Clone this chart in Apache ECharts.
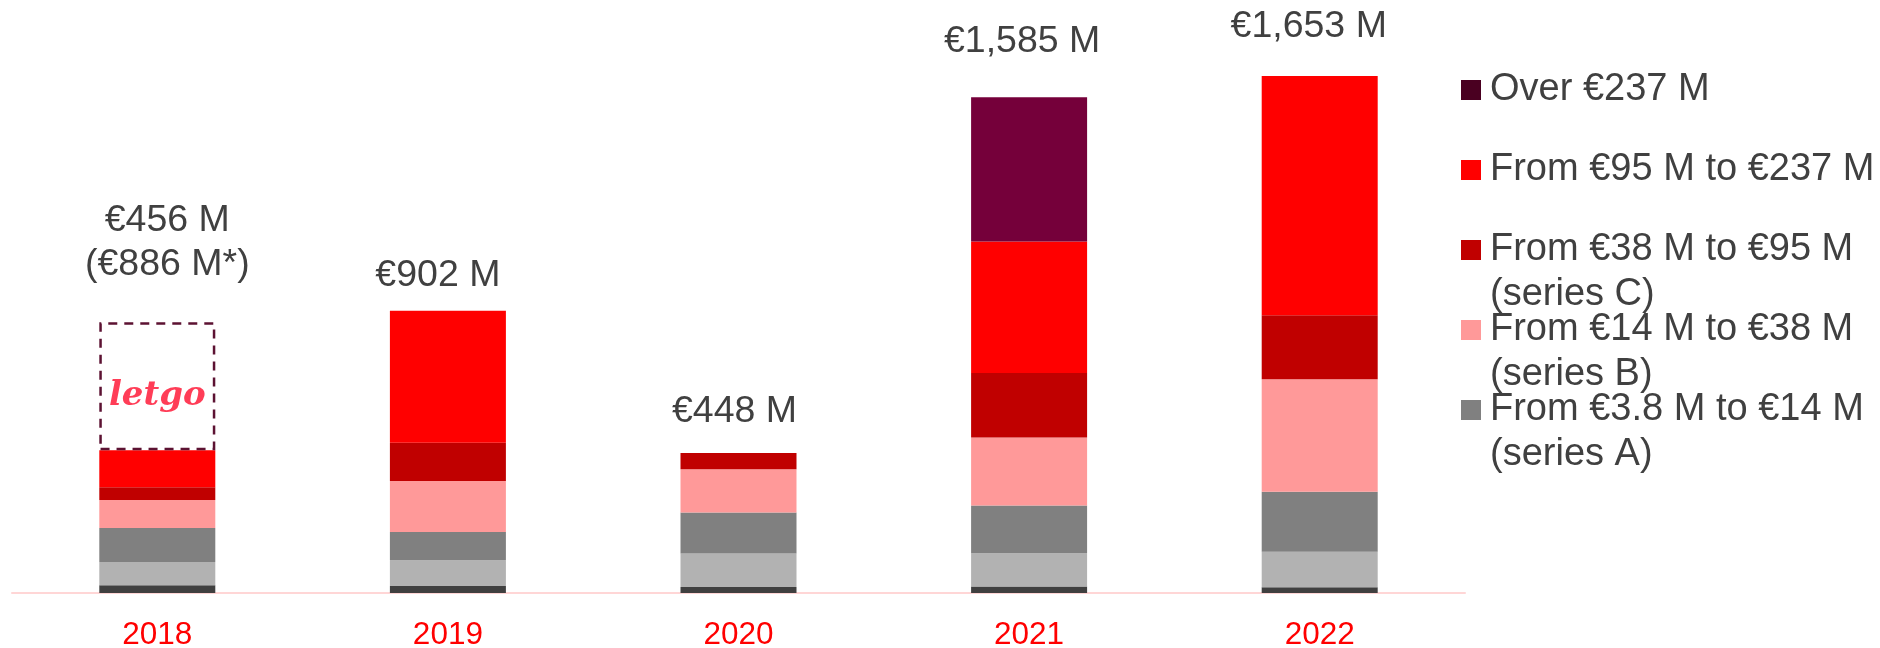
<!DOCTYPE html>
<html>
<head>
<meta charset="utf-8">
<title>Funding by round size</title>
<script src="https://cdn.jsdelivr.net/npm/echarts@6/dist/echarts.min.js"></script>
<style>
  html, body { margin: 0; padding: 0; background: #fff; }
  #main { width: 1880px; height: 648px; }
</style>
</head>
<body>
<div id="main"></div>
<script>
// data (M€)
var years = ['2018', '2019', '2020', '2021', '2022'];
var under095 = [25, 22, 19, 21, 18];
var from095to38 = [74, 83, 107, 106, 114];
var seriesA = [109, 90, 131, 153, 192];
var seriesB = [89, 163, 139, 217, 359];
var seriesC = [41, 122, 52, 206, 205];
var from95to237 = [118, 422, null, 421, 765];
var over237 = [null, null, null, 461, null];
var letgo = [410, null, null, null, null];
var totalLabels = ['€456 M\n(€886 M*)', '€902 M', '€448 M', '€1,585 M', '€1,653 M'];

// label nudges (style only)
var labelGap = [35, 13, 19, 34, 27];
var labelShift = [10, -10, -4, -7, -11];

var font = '"Liberation Sans", Arial, sans-serif';
var textGrey = '#404040';

var dom = document.getElementById('main');
var myChart = echarts.init(dom);

function stackBar(name, data, color) {
    return {
        name: name,
        type: 'bar',
        stack: 'total',
        barWidth: 116,
        data: data,
        itemStyle: { color: color },
        emphasis: { disabled: true }
    };
}

var totals = years.map(function (y, i) {
    return {
        value: 0,
        label: { distance: labelGap[i], offset: [labelShift[i], 0], formatter: totalLabels[i] }
    };
});

var option = {
    animation: false,
    textStyle: { fontFamily: font },
    grid: { left: 12, right: 415, top: 30, bottom: 55, containLabel: false, outerBoundsMode: 'none' },
    legend: {
        orient: 'vertical',
        left: 1456,
        top: 65,
        itemWidth: 20,
        itemHeight: 20,
        itemGap: 40,
        icon: 'rect',
        selectedMode: false,
        textStyle: { fontSize: 38, color: textGrey, fontFamily: font, lineHeight: 40, padding: [0, 0, 0, 4] },
        data: [
            { name: 'Over €237 M', itemStyle: { color: '#4a0021' } },
            { name: 'From €95 M to €237 M' },
            { name: 'From €38 M to €95 M' },
            { name: 'From €14 M to €38 M' },
            { name: 'From €3.8 M to €14 M' }
        ]
    },
    graphic: [
        { type: 'text', x: 1490, y: 295, style: { text: '(series C)', font: '38px ' + font, fill: textGrey, verticalAlign: 'middle' } },
        { type: 'text', x: 1490, y: 375, style: { text: '(series B)', font: '38px ' + font, fill: textGrey, verticalAlign: 'middle' } },
        { type: 'text', x: 1490, y: 455, style: { text: '(series A)', font: '38px ' + font, fill: textGrey, verticalAlign: 'middle' } }
    ],
    xAxis: {
        type: 'category',
        data: years,
        axisLine: { lineStyle: { color: '#ffd6d6', width: 2 } },
        axisTick: { show: false },
        axisLabel: { color: '#ff0000', fontSize: 31.5, margin: 26, fontFamily: font }
    },
    yAxis: {
        type: 'value',
        min: 0,
        max: 1800,
        show: false,
        splitLine: { show: false }
    },
    series: [
        stackBar('Under €0.95 M', under095, '#404040'),
        stackBar('From €0.95 M to €3.8 M', from095to38, '#b2b2b2'),
        stackBar('From €3.8 M to €14 M', seriesA, '#808080'),
        stackBar('From €14 M to €38 M', seriesB, '#ff9999'),
        stackBar('From €38 M to €95 M', seriesC, '#c00000'),
        stackBar('From €95 M to €237 M', from95to237, '#ff0000'),
        stackBar('Over €237 M', over237, '#75003a'),
        {
            name: 'letgo',
            type: 'bar',
            stack: 'total',
            barWidth: 116,
            data: letgo,
            itemStyle: {
                color: 'rgba(0,0,0,0)',
                borderColor: '#5c1232',
                borderWidth: 2.5,
                borderType: [9, 7]
            },
            label: {
                show: true,
                position: 'inside',
                formatter: 'letgo',
                color: '#ff3d57',
                fontSize: 34,
                fontStyle: 'italic',
                fontWeight: 'bold',
                fontFamily: '"DejaVu Serif", serif',
                offset: [0, 10]
            },
            emphasis: { disabled: true }
        },
        {
            name: 'totals',
            type: 'bar',
            stack: 'total',
            barWidth: 116,
            data: totals,
            itemStyle: { color: 'rgba(0,0,0,0)' },
            label: {
                show: true,
                position: 'top',
                color: textGrey,
                fontSize: 37.5,
                lineHeight: 44,
                fontFamily: font,
                align: 'center'
            },
            emphasis: { disabled: true }
        }
    ]
};

if (option && typeof option === 'object') {
    myChart.setOption(option, true);
    window.onresize = function () {
        myChart.resize();
    };
}
</script>
</body>
</html>
